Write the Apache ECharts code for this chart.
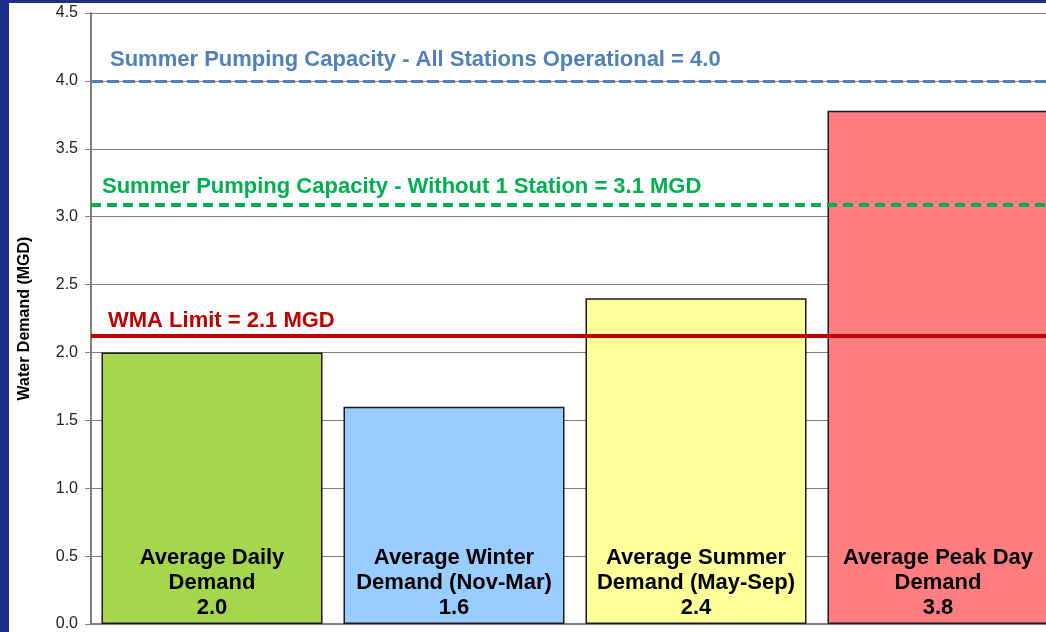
<!DOCTYPE html>
<html>
<head>
<meta charset="utf-8">
<script src="https://cdn.jsdelivr.net/npm/echarts@6/dist/echarts.min.js"></script>
<style>
  html, body { margin: 0; padding: 0; background: #1d2f8a; overflow: hidden; width: 1046px; height: 632px; }
  /* 图表比窗口宽，右侧被裁掉 */
  #chart { position: absolute; left: 9px; top: 3px; width: 1050px; height: 629px; background: #fff; }
</style>
</head>
<body>
<div id="chart"></div>
<script>
// 需求类别与数值
const categories = ['Average Daily\nDemand', 'Average Winter\nDemand (Nov-Mar)', 'Average Summer\nDemand (May-Sep)', 'Average Peak Day\nDemand']
const demandValues = [2.0, 1.6, 2.4, 3.78]
const demandLabels = ['2.0', '1.6', '2.4', '3.8']
const barColors = ['#a5d64c', '#99ccff', '#ffff99', '#ff7c80']

// 参考线
const lineValues = [4.0, 3.09, 2.12]
const lineNames = [
    'Summer Pumping Capacity - All Stations Operational = 4.0',
    'Summer Pumping Capacity - Without 1 Station = 3.1 MGD',
    'WMA Limit = 2.1 MGD'
]

const myChart = echarts.init(document.getElementById('chart'))

const lineStyles = [
    { color: '#4f81bd', width: 3, type: [12, 4], labelColor: '#4f81bd', dist: [19, 10] },
    { color: '#00b050', width: 4, type: [10, 6], labelColor: '#00b050', dist: [11, 7] },
    { color: '#c00000', width: 4, type: 'solid', labelColor: '#c00000', dist: [17, 4] }
]

const option = {
    animation: false,
    textStyle: { fontFamily: '"Liberation Sans", Arial, sans-serif' },
    grid: { left: 80, right: 0, top: 10, bottom: 5 },
    xAxis: {
        type: 'category',
        data: categories,
        axisLabel: { show: false },
        axisTick: { show: false },
        axisLine: { lineStyle: { color: '#808080', width: 2 } }
    },
    yAxis: {
        type: 'value',
        min: 0,
        max: 4.5,
        interval: 0.5,
        name: 'Water Demand (MGD)',
        nameLocation: 'middle',
        nameRotate: 90,
        nameGap: 58,
        nameTextStyle: { fontSize: 16, fontWeight: 'bold', color: '#000' },
        axisLine: { show: true, lineStyle: { color: '#808080', width: 2 } },
        axisTick: { show: true, length: 6, lineStyle: { color: '#808080' } },
        axisLabel: {
            fontSize: 16,
            color: '#222',
            margin: 13,
            formatter: v => v.toFixed(1)
        },
        splitLine: { lineStyle: { color: '#7f7f7f', width: 1 } }
    },
    series: [
        {
            type: 'bar',
            barWidth: 221,
            data: demandValues.map((v, i) => ({
                value: v,
                itemStyle: { color: barColors[i] }
            })),
            itemStyle: { borderColor: '#1a1a1a', borderWidth: 1.5 },
            label: {
                show: true,
                position: 'insideBottom',
                distance: 4,
                fontSize: 22,
                fontWeight: 'bold',
                lineHeight: 25,
                color: '#000',
                formatter: p => categories[p.dataIndex] + '\n' + demandLabels[p.dataIndex]
            },
            markLine: {
                silent: true,
                symbol: 'none',
                data: lineValues.map((v, i) => ({
                    yAxis: v,
                    lineStyle: {
                        color: lineStyles[i].color,
                        width: lineStyles[i].width,
                        type: lineStyles[i].type
                    },
                    label: {
                        show: true,
                        position: 'insideStartTop',
                        distance: lineStyles[i].dist,
                        formatter: lineNames[i],
                        fontSize: 22,
                        fontWeight: 'bold',
                        color: lineStyles[i].labelColor
                    }
                }))
            }
        }
    ]
}
myChart.setOption(option)
</script>
</body>
</html>
